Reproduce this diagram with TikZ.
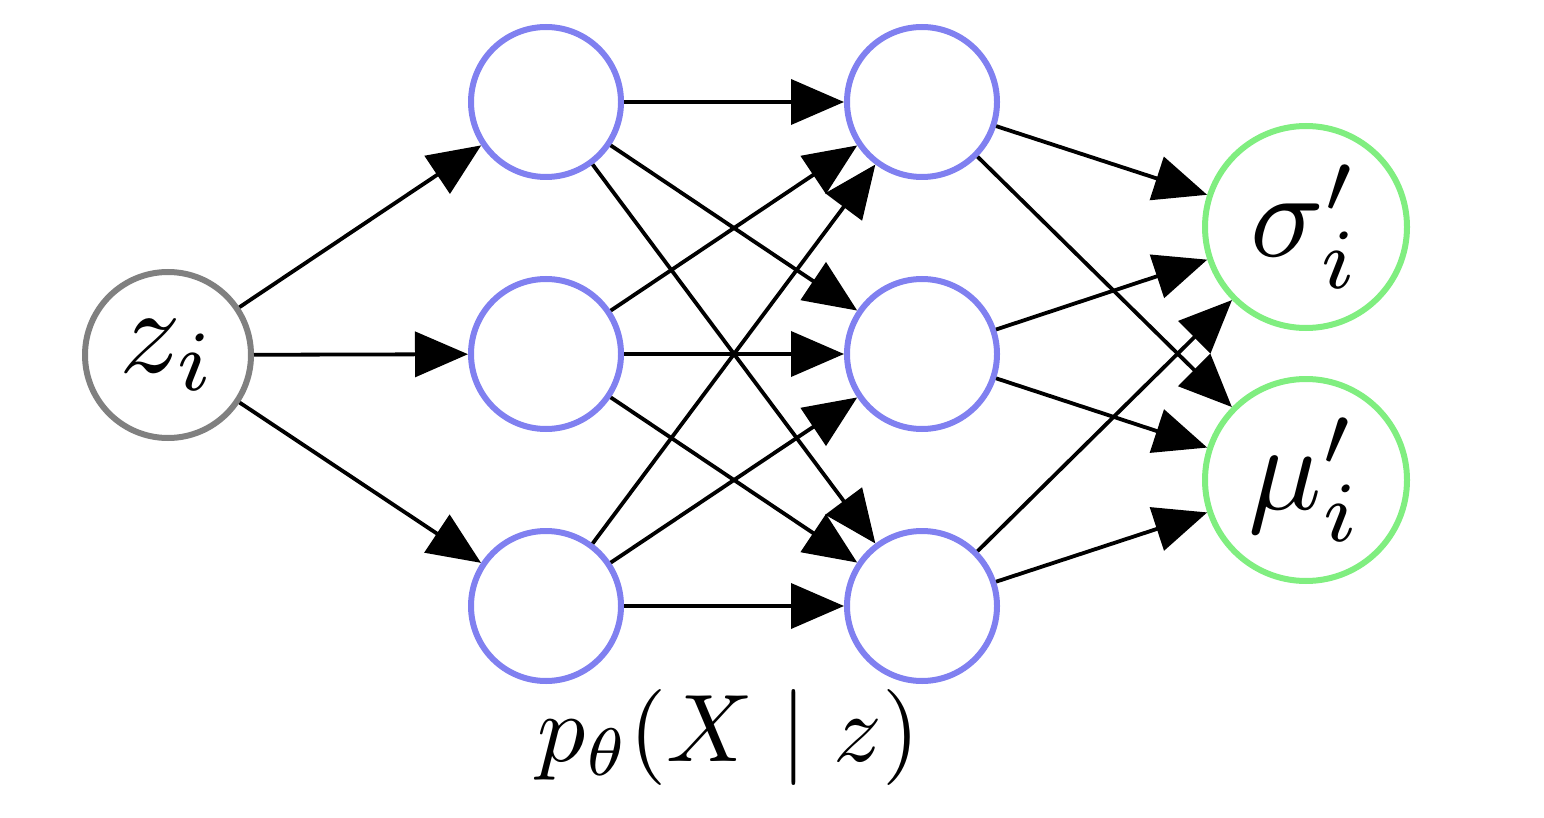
\documentclass[tikz,border=0pt]{standalone}
\usepackage{graphicx}
\usetikzlibrary{arrows.meta}
\definecolor{hidc}{RGB}{128,128,240}
\definecolor{outc}{RGB}{128,238,128}
\definecolor{inc}{RGB}{128,128,128}
\newcommand{\bigtxt}[2]{\scalebox{#1}{$#2$}}
\begin{document}
\begin{tikzpicture}[x=1pt,y=-1pt,
  neuron/.style={circle, line width=6pt, inner sep=0pt, fill=white},
  hidden/.style={neuron, draw=hidc, minimum size=150pt},
  inp/.style={neuron, draw=inc, minimum size=166pt},
  outp/.style={neuron, draw=outc, minimum size=202pt},
  conn/.style={line width=3.8pt, -{Triangle[length=53pt,width=45pt]}},
  lbl/.style={inner sep=0pt}]
\useasboundingbox (0,0) rectangle (1544,818);
\node[inp] (z) at (168,355) {\bigtxt{12.2}{z_i}};
\node[hidden] (a1) at (546,102) {};
\node[hidden] (a2) at (546,354) {};
\node[hidden] (a3) at (546,606) {};
\node[hidden] (b1) at (922,102) {};
\node[hidden] (b2) at (922,354) {};
\node[hidden] (b3) at (922,606) {};
\node[outp] (s) at (1306,227) {\bigtxt{12.2}{\sigma'_i}};
\node[outp] (m) at (1306,480) {\bigtxt{12.2}{\mu'_i}};
\node[lbl] (t) at (729,737) {\bigtxt{9.6}{p_\theta(X \mid z)}};
\foreach \a in {a1,a2,a3} \draw[conn] (z) -- (\a);
\foreach \a in {a1,a2,a3} \foreach \b in {b1,b2,b3} \draw[conn] (\a) -- (\b);
\foreach \b in {b1,b2,b3} \foreach \o in {s,m} \draw[conn] (\b) -- (\o);
\end{tikzpicture}
\end{document}
